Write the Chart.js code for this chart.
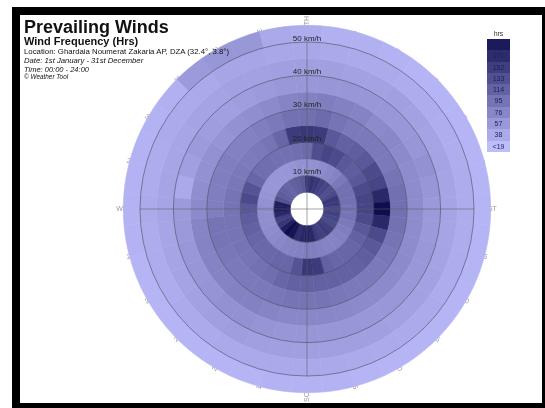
<!DOCTYPE html>
<html>
<head>
<meta charset="utf-8">
<script src="https://cdn.jsdelivr.net/npm/chart.js@4.4.1/dist/chart.umd.min.js"></script>
<style>
  html, body { margin: 0; padding: 0; background: #fff; overflow: hidden; width: 545px; height: 408px; }
  body { font-family: Arial, "Liberation Sans", sans-serif; position: relative; }
  #frame { position: absolute; left: 12px; top: 7px; width: 522px; height: 388px; border: 8px solid #000; background: #fff; }
  #frame canvas { position: absolute; left: 0; top: 0; }
  .t { position: absolute; left: 4px; white-space: nowrap; color: #111; line-height: 1; }
  #title    { top: 3px;  font-size: 18px; font-weight: bold; }
  #subtitle { top: 21px; font-size: 11px; font-weight: bold; }
  #loc      { top: 33px; font-size: 7.8px; }
  #date     { top: 42px; font-size: 7.7px; font-style: italic; }
  #time     { top: 51px; font-size: 7.5px; font-style: italic; }
  #copy     { top: 59px; font-size: 6.4px; font-style: italic; }
  #legend { position: absolute; left: 467px; top: 14px; width: 23px; text-align: center; font-size: 7px; }
  #legend .unit { color: #333; height: 10px; line-height: 10px; }
  #legend .box { height: 11.3px; line-height: 11.3px; color: #1e1e5a; }
</style>
</head>
<body>
<div id="frame">
  <canvas id="rose" width="522" height="388"></canvas>
  <div class="t" id="title">Prevailing Winds</div>
  <div class="t" id="subtitle">Wind Frequency (Hrs)</div>
  <div class="t" id="loc">Location: Ghardaia Noumerat Zakaria AP, DZA (32.4°, 3.8°)</div>
  <div class="t" id="date">Date: 1st January - 31st December</div>
  <div class="t" id="time">Time: 00:00 - 24:00</div>
  <div class="t" id="copy">© Weather Tool</div>
  <div id="legend"></div>
</div>
<script>
'use strict';

// ── Data ────────────────────────────────────────────────
// speed bin edges (km/h); the centre hole is the 0–5 bin
const speedEdges = [5, 10, 15, 20, 25, 30, 35, 40, 45, 50, 55];
const gridSpeeds = [10, 20, 30, 40, 50];
// direction bins, bearing of each sector centre
const bearings = [0, 10, 20, 30, 40, 50, 60, 70, 80, 90, 100, 110, 120, 130, 140, 150, 160, 170,
                  180, 190, 200, 210, 220, 230, 240, 250, 260, 270, 280, 290, 300, 310, 320, 330, 340, 350];

// hours per direction (0°, 10°, … 350°), one array per speed bin
const hrs05 = [150, 155, 150, 140, 135, 125, 130, 150, 145, 135, 140, 135, 130, 140, 145, 140, 145, 165,
               175, 165, 160, 185, 200, 175, 150, 140, 165, 180, 175, 120, 110, 105, 100, 105, 110, 115];
const hrs10 = [55, 55, 60, 65, 70, 80, 90, 90, 88, 85, 85, 80, 75, 72, 70, 70, 72, 75,
               75, 72, 70, 68, 65, 62, 60, 58, 58, 58, 55, 52, 50, 50, 50, 50, 52, 55];
const hrs15 = [95, 125, 135, 130, 115, 110, 115, 130, 135, 135, 130, 115, 105, 100, 100, 100, 105, 145,
               150, 120, 100, 100, 98, 98, 100, 105, 110, 115, 130, 120, 100, 92, 92, 90, 90, 92];
const hrs20 = [150, 145, 115, 105, 108, 115, 130, 135, 165, 195, 165, 130, 115, 108, 105, 105, 105, 105,
               105, 105, 100, 92, 88, 85, 85, 85, 85, 85, 85, 82, 80, 78, 80, 85, 100, 145];
const hrs25 = [90, 95, 85, 80, 80, 80, 80, 85, 90, 90, 88, 85, 82, 80, 80, 80, 82, 85,
               85, 85, 82, 80, 80, 80, 82, 85, 85, 75, 75, 75, 75, 72, 72, 75, 80, 88];
const hrs30 = [72, 75, 72, 70, 62, 65, 62, 60, 60, 60, 60, 60, 62, 62, 62, 62, 64, 65,
               65, 65, 68, 72, 72, 70, 70, 70, 68, 62, 58, 55, 55, 52, 55, 58, 62, 68];
const hrs35 = [48, 50, 50, 50, 48, 48, 50, 55, 50, 46, 46, 48, 48, 48, 48, 48, 50, 50,
               50, 50, 52, 55, 55, 52, 50, 48, 46, 45, 30, 40, 45, 42, 40, 42, 45, 48];
const hrs40 = [40, 40, 38, 38, 40, 38, 36, 36, 35, 35, 35, 36, 38, 38, 38, 40, 40, 40,
               40, 40, 40, 42, 40, 38, 36, 35, 34, 35, 35, 34, 34, 36, 36, 38, 38, 40];
const hrs45 = [32, 30, 28, 28, 26, 26, 25, 25, 26, 26, 26, 26, 26, 28, 28, 28, 28, 30,
               30, 30, 30, 30, 28, 28, 26, 26, 26, 28, 26, 26, 28, 28, 30, 34, 34, 32];
const hrs50 = [26, 22, 22, 20, 18, 18, 18, 18, 18, 18, 18, 18, 18, 18, 18, 18, 18, 20,
               20, 20, 18, 18, 18, 18, 18, 18, 20, 20, 20, 20, 20, 22, 45, 50, 48, 30];

const speedRings = [hrs05, hrs10, hrs15, hrs20, hrs25, hrs30, hrs35, hrs40, hrs45, hrs50];

// colour legend
const legendLevels = [190, 171, 152, 133, 114, 95, 76, 57, 38, 19];
const legendLabels = ['', '171', '152', '133', '114', '95', '76', '57', '38', '<19'];

// compass labels round the rim
const dirBearings = [0, 15, 30, 45, 60, 75, 90, 105, 120, 135, 150, 165,
                     180, 195, 210, 225, 240, 255, 270, 285, 300, 315, 330, 345];
const dirLabels   = ['NORTH', '15', '30', '45', '60', '75', 'EAST', '105', '120', '135', '150', '165',
                     'SOUTH', '195', '210', '225', '240', '255', 'WEST', '285', '300', '315', '330', '345'];

// ── Colour scale ────────────────────────────────────────
function colorFor(v) {
  const c = Math.max(14, Math.round(198 - 0.95 * v));
  const b = Math.max(76, Math.min(250, Math.round(262 - 0.95 * v)));
  return `rgb(${c},${c},${b})`;
}

// ── Legend ──────────────────────────────────────────────
function buildLegend() {
  const el = document.getElementById('legend');
  const unit = document.createElement('div');
  unit.className = 'unit';
  unit.textContent = 'hrs';
  el.appendChild(unit);
  legendLevels.forEach((lv, i) => {
    const box = document.createElement('div');
    box.className = 'box';
    box.style.background = colorFor(lv - 9.5);
    box.textContent = legendLabels[i];
    el.appendChild(box);
  });
}

// ── Grid / labels plugin ────────────────────────────────
const roseGrid = {
  id: 'roseGrid',
  beforeDatasetsDraw(chart) {
    const outer = chart.getDatasetMeta(0).data[0];
    const { ctx } = chart;
    ctx.save();
    ctx.fillStyle = '#9a9a9a';
    ctx.font = '7px Arial, "Liberation Sans", sans-serif';
    ctx.textAlign = 'center';
    ctx.textBaseline = 'middle';
    const r = outer.outerRadius - 3;
    dirBearings.forEach((b, i) => {
      ctx.save();
      ctx.translate(outer.x, outer.y);
      if (b < 180) {
        ctx.rotate((b - 90) * Math.PI / 180);
        ctx.fillText(dirLabels[i], r, 0);
      } else {
        ctx.rotate((b + 90) * Math.PI / 180);
        ctx.fillText(dirLabels[i], -r, 0);
      }
      ctx.restore();
    });
    ctx.restore();
  },
  afterDatasetsDraw(chart) {
    const { ctx } = chart;
    const n = speedRings.length;
    const radiusAt = s => {
      const i = speedEdges.indexOf(s);
      if (i < n) return chart.getDatasetMeta(n - 1 - i).data[0].innerRadius;
      return chart.getDatasetMeta(0).data[0].outerRadius;
    };
    const c = chart.getDatasetMeta(0).data[0];
    const rMax = radiusAt(gridSpeeds[gridSpeeds.length - 1]);
    ctx.save();
    ctx.strokeStyle = 'rgba(70,70,90,0.75)';
    ctx.lineWidth = 0.8;
    gridSpeeds.forEach(s => {
      ctx.beginPath();
      ctx.arc(c.x, c.y, radiusAt(s), 0, Math.PI * 2);
      ctx.stroke();
    });
    ctx.strokeStyle = 'rgba(90,90,100,0.7)';
    ctx.beginPath();
    ctx.moveTo(c.x, c.y - rMax); ctx.lineTo(c.x, c.y + rMax);
    ctx.moveTo(c.x - rMax, c.y); ctx.lineTo(c.x + rMax, c.y);
    ctx.stroke();
    ctx.fillStyle = '#222';
    ctx.font = '8px Arial, "Liberation Sans", sans-serif';
    ctx.textAlign = 'center';
    ctx.textBaseline = 'alphabetic';
    gridSpeeds.forEach(s => {
      ctx.fillText(`${s} km/h`, c.x, c.y - radiusAt(s) - 1.5);
    });
    ctx.restore();
  }
};

// ── Chart ───────────────────────────────────────────────
function initChart() {
  const sectorSpan = 360 / bearings.length;
  const datasets = speedRings.map((vals, i) => ({
    label: `${speedEdges[i]}-${speedEdges[i + 1]} km/h`,
    data: bearings.map(() => sectorSpan),
    backgroundColor: vals.map(colorFor),
    borderColor: vals.map(colorFor),
    borderWidth: 0.6,
  })).reverse(); // doughnut draws dataset 0 outermost

  new Chart(document.getElementById('rose'), {
    type: 'doughnut',
    data: { labels: bearings.map(b => `${b}°`), datasets },
    options: {
      responsive: false,
      animation: false,
      events: [],
      rotation: -sectorSpan / 2,
      cutout: `${(speedEdges[0] / speedEdges[speedEdges.length - 1]) * 100}%`,
      layout: { padding: { left: 103, right: 51, top: 10, bottom: 10 } },
      plugins: { legend: { display: false }, tooltip: { enabled: false }, title: { display: false } },
    },
    plugins: [roseGrid],
  });
}

buildLegend();
initChart();
</script>
</body>
</html>
